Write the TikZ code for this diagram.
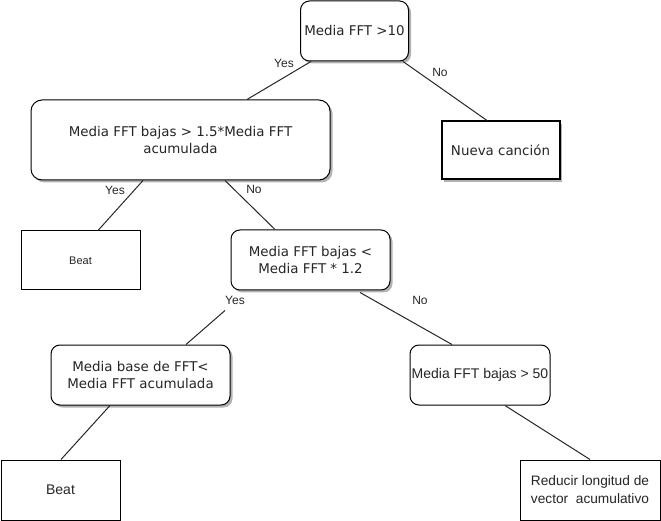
\documentclass[tikz,border=0pt]{standalone}
\usepackage{fontspec}
\setmainfont{DejaVu Sans}
\newfontfamily\arialf{Liberation Sans}
\usetikzlibrary{calc,shadows}
\tikzset{
  base/.style={draw=black, line width=1pt, fill=white, inner sep=0pt, align=center, text=black!85},
  rbox/.style={base, rounded corners=9pt, font=\fontsize{13.4}{17}\selectfont},
  shad/.style={drop shadow={shadow xshift=2.5pt, shadow yshift=-2.5pt, fill=black!30, opacity=1}},
  sbox/.style={base, font=\arialf\fontsize{13.7}{18}\selectfont},
  edge/.style={draw=black!85, line width=1pt},
  lab/.style={font=\arialf\fontsize{12}{14}\selectfont, text=black!85, inner sep=0pt}
}
\begin{document}
\begin{tikzpicture}[x=1pt,y=-1pt]
\useasboundingbox (0,0) rectangle (661,521);
\node[rbox, shad, minimum width=108pt, minimum height=60pt] (top) at (354.5,31) {Media FFT >10};
\node[rbox, shad, minimum width=299pt, minimum height=80pt, rounded corners=11pt] (b2) at (180.5,140) {Media FFT bajas > 1.5*Media FFT\\acumulada};
\node[base, shad, line width=2pt, rounded corners=0pt, font=\fontsize{13.4}{17}\selectfont, minimum width=118pt, minimum height=58pt] (nueva) at (500.5,150.5) {Nueva canción};
\node[sbox, font=\arialf\fontsize{11}{13}\selectfont, minimum width=119pt, minimum height=59pt] (beat1) at (80.5,260.5) {Beat};
\node[rbox, shad, minimum width=159pt, minimum height=60pt] (b3) at (310.5,260) {Media FFT bajas <\\Media FFT * 1.2};
\node[rbox, shad, minimum width=179pt, minimum height=60pt] (b4) at (140.5,375) {Media base de FFT<\\Media FFT acumulada};
\node[base, rounded corners=9pt, font=\arialf\fontsize{14}{17}\selectfont, minimum width=140pt, minimum height=60pt] (b5) at (480,375) {Media FFT bajas > 50};
\node[sbox, font=\arialf\fontsize{14}{17}\selectfont, minimum width=119pt, minimum height=60pt] (beat2) at (60.5,490) {Beat};
\node[sbox, minimum width=140pt, minimum height=60pt] (red) at (590,490) {Reducir longitud de\\vector\ \ acumulativo};
% connectors
\draw[edge] ($(top.south)+(-43.5,0)$) -- ($(b2.north)+(66.5,0)$);
\draw[edge] ($(top.south)+(48.5,0)$) -- ($(nueva.north)+(-13.5,0)$);
\draw[edge] ($(b2.south)+(-37.5,0)$) -- ($(beat1.north)+(17.5,0)$);
\draw[edge] ($(b2.south)+(44.5,0)$) -- ($(b3.north)+(-35.5,0)$);
\coordinate (y3) at ($(b3.south)+(-85.5,20)$);
\draw[edge] (y3) -- ($(b4.north)+(45.5,0)$);
\draw[edge] ($(b3.south)+(49.5,2)$) -- ($(b5.north)+(-28,0)$);
\draw[edge] ($(b4.south)+(-30.5,0)$) -- ($(beat2.north)+(0.5,0)$);
\draw[edge] ($(b5.south)+(25,0)$) -- ($(red.north)+(0,0)$);
% labels
\node[lab] (l1) at (284,63) {Yes};
\node[lab] (l2) at (440,72) {No};
\node[lab] (l3) at (115,190) {Yes};
\node[lab] (l4) at (254,189) {No};
\node[lab] (l5) at (235,300) {Yes};
\node[lab] (l6) at (420,300) {No};
\end{tikzpicture}
\end{document}
